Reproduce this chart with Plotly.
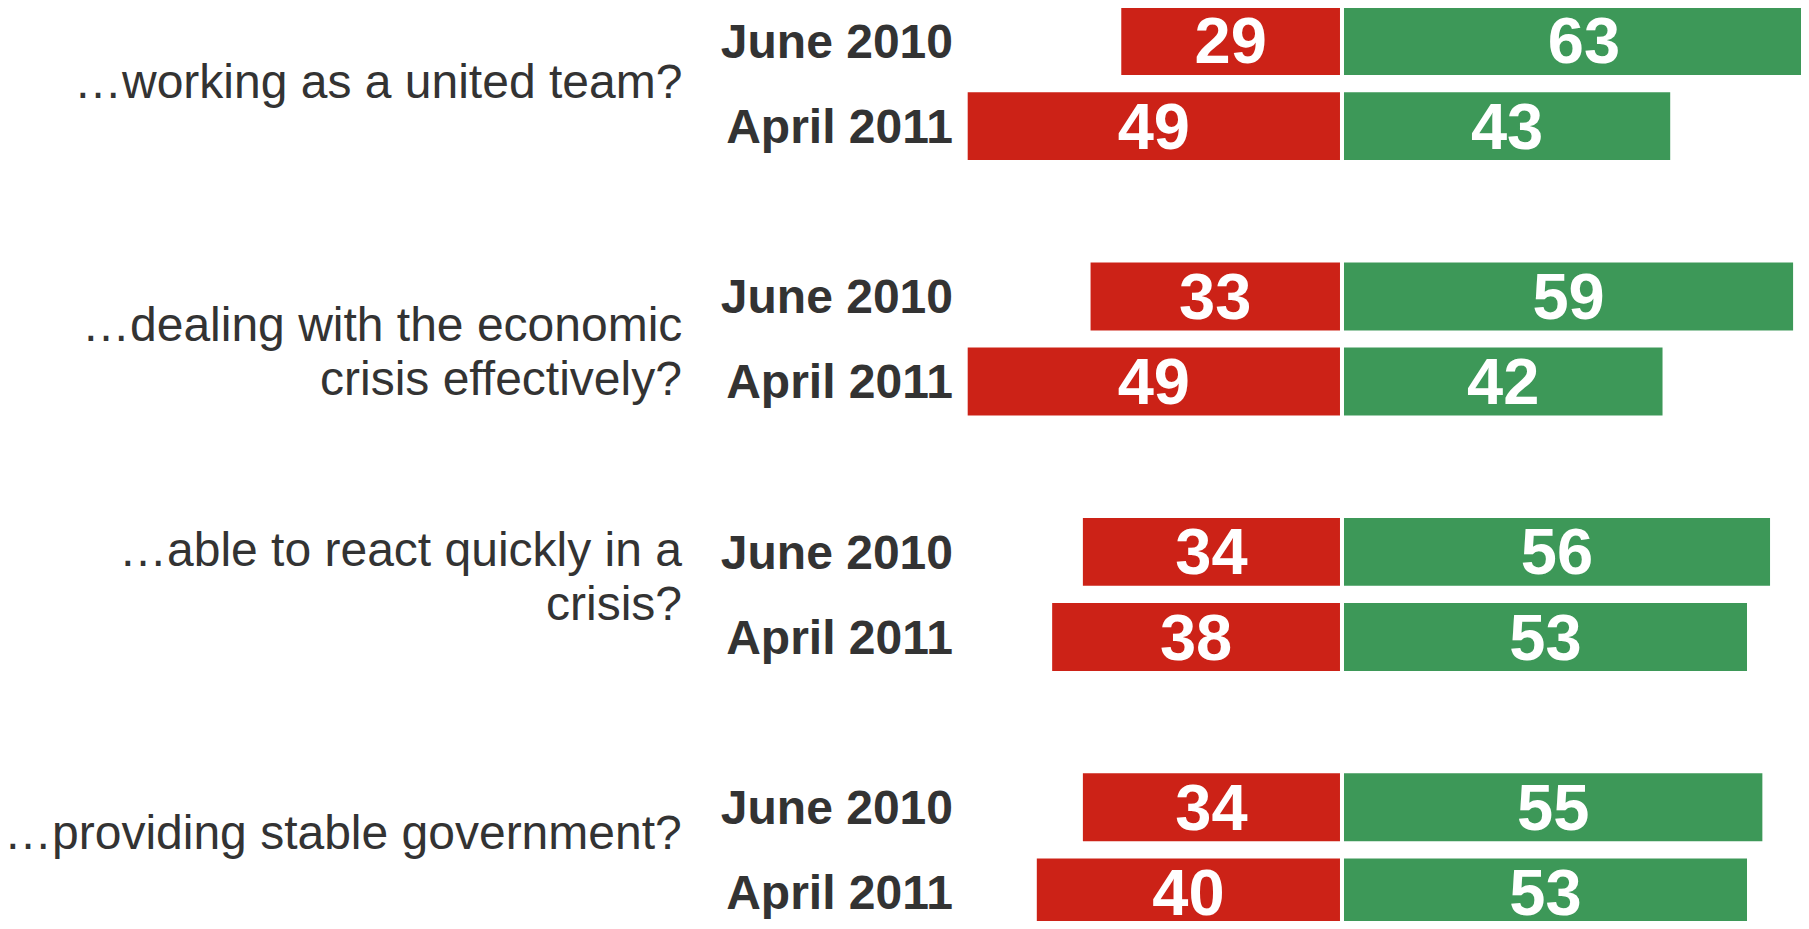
import plotly.graph_objects as go

# survey data: share saying the coalition is / is not ...
questions = [
    "…working as a united team?",
    "…dealing with the economic<br>crisis effectively?",
    "…able to react quickly in a<br>crisis?",
    "…providing stable government?",
]
waves = ["June 2010", "April 2011"]

# rows in display order: q1 June, q1 April, q2 June, ...
no_vals = [29, 49, 33, 49, 34, 38, 34, 40]
yes_vals = [63, 43, 59, 42, 56, 53, 55, 53]

RED = "#CC2217"
GREEN = "#3D9858"
GREY = "#333333"
FONT = "Liberation Sans, Arial, sans-serif"

# slot positions: two bars per question, one empty slot between groups
rows = []
for q in range(len(questions)):
    rows += [q * 3, q * 3 + 1]
row_labels = waves * len(questions)

fig = go.Figure()

for vals, sign, col in [(no_vals, -1, RED), (yes_vals, 1, GREEN)]:
    fig.add_trace(go.Bar(
        y=rows,
        x=[sign * v for v in vals],
        orientation="h",
        width=0.845,
        marker=dict(color=col, line=dict(color="white", width=4)),
        text=vals,
        textposition="inside",
        insidetextanchor="middle",
        constraintext="none",
        textangle=0,
        textfont=dict(family=FONT, size=65, color="white", weight="bold"),
        hoverinfo="skip",
    ))

# question text on the left, roughly centred on each pair of bars
# (one annotation per line so the line spacing can be a bit tighter)
label_shift = [2, -12, 18, 17]
line_gap = 54
for i, q in enumerate(questions):
    lines = q.split("<br>")
    for k, line in enumerate(lines):
        fig.add_annotation(
            text=line,
            xref="paper", x=0, xanchor="right", xshift=-278,
            yref="y", y=i * 3 + 0.5, yanchor="middle",
            yshift=label_shift[i] + ((len(lines) - 1) / 2 - k) * line_gap,
            align="right",
            showarrow=False,
            font=dict(family=FONT, size=48, color=GREY),
        )

fig.update_layout(
    width=1793,
    height=913,
    barmode="relative",
    showlegend=False,
    plot_bgcolor="white",
    paper_bgcolor="white",
    margin=dict(l=954, r=0, t=0, b=0),
    xaxis=dict(range=[-49.48, 59.77], visible=False, fixedrange=True),
    yaxis=dict(
        range=[10.335, -0.3875],
        tickvals=rows,
        ticktext=row_labels,
        tickfont=dict(family=FONT, size=48, color=GREY, weight="bold"),
        ticklabelstandoff=8,
        showgrid=False,
        zeroline=False,
        showline=False,
        ticks="",
        fixedrange=True,
    ),
)

fig.write_html("out.html")
